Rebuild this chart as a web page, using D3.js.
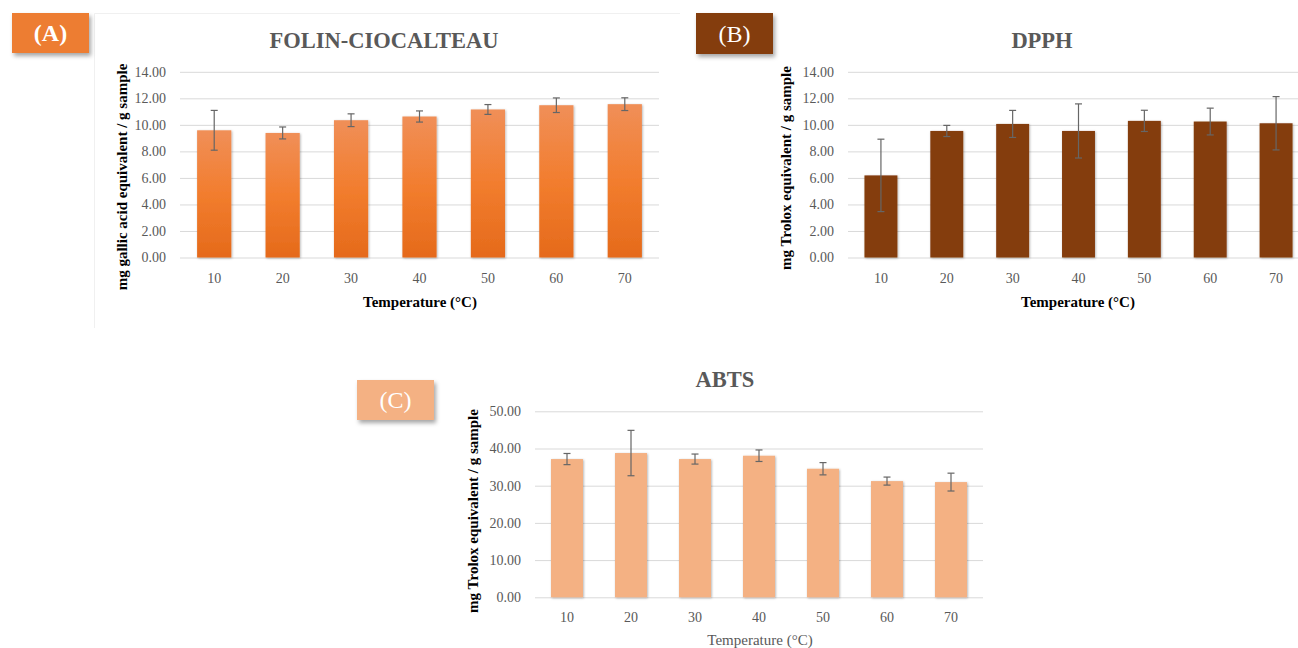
<!DOCTYPE html>
<html>
<head>
<meta charset="utf-8">
<script src="https://cdn.jsdelivr.net/npm/d3@7"></script>
<style>
  html, body { margin: 0; padding: 0; background: #fff; }
  svg { display: block; }
  text { font-family: "Palatino Linotype", "Book Antiqua", Palatino, "Liberation Serif", "DejaVu Serif", serif; }
</style>
</head>
<body>
<svg id="chart" width="1298" height="648"></svg>
<script>
// ---- data ----
const temperatures = ["10", "20", "30", "40", "50", "60", "70"];

const folinValues = [9.59, 9.39, 10.35, 10.63, 11.16, 11.48, 11.56];
const folinErrors = [1.50, 0.45, 0.48, 0.42, 0.37, 0.55, 0.48];

const dpphValues = [6.19, 9.54, 10.07, 9.54, 10.30, 10.25, 10.12];
const dpphErrors = [2.73, 0.42, 1.02, 2.04, 0.80, 1.01, 2.01];

const abtsValues = [37.16, 38.78, 37.16, 38.06, 34.56, 31.24, 30.97];
const abtsErrors = [1.50, 6.10, 1.35, 1.55, 1.65, 1.08, 2.40];

const ticksAB = [0, 2, 4, 6, 8, 10, 12, 14];
const ticksC = [0, 10, 20, 30, 40, 50];

const titles = ["FOLIN-CIOCALTEAU", "DPPH", "ABTS"];
const yTitles = ["mg gallic acid equivalent / g sample", "mg Trolox equivalent / g sample", "mg Trolox equivalent / g sample"];
const xTitle = "Temperature (°C)";
const badges = ["(A)", "(B)", "(C)"];

// ---- drawing ----
const svg = d3.select("#chart");
const defs = svg.append("defs");

const grad = defs.append("linearGradient").attr("id", "gradA")
  .attr("x1", 0).attr("y1", 0).attr("x2", 0).attr("y2", 1);
grad.append("stop").attr("offset", "0%").attr("stop-color", "#F08F58");
grad.append("stop").attr("offset", "50%").attr("stop-color", "#F27D2E");
grad.append("stop").attr("offset", "100%").attr("stop-color", "#E56A1B");

const barShadow = defs.append("filter").attr("id", "barShadow")
  .attr("x", "-20%").attr("y", "-5%").attr("width", "140%").attr("height", "110%");
barShadow.append("feDropShadow").attr("dx", 0.8).attr("dy", 0.8)
  .attr("stdDeviation", 1.1).attr("flood-color", "#000").attr("flood-opacity", 0.3);

const badgeShadow = defs.append("filter").attr("id", "badgeShadow")
  .attr("x", "-20%").attr("y", "-20%").attr("width", "150%").attr("height", "160%");
badgeShadow.append("feDropShadow").attr("dx", 2).attr("dy", 3)
  .attr("stdDeviation", 2).attr("flood-color", "#000").attr("flood-opacity", 0.35);

// faint chart-area border of panel A
svg.append("path").attr("d", "M94.5,328 V13.5 H680")
  .attr("fill", "none").attr("stroke", "#F0F0F0").attr("stroke-width", 1);

const fontStack = "'Palatino Linotype','Book Antiqua',Palatino,'Liberation Serif',serif";

const panels = [
  { values: folinValues, errors: folinErrors, ticks: ticksAB, max: 14,
    x0: 180, x1: 659, yb: 257.5, yt: 71.8, fill: "url(#gradA)",
    title: titles[0], tx: 384, ty: 48,
    yTitle: yTitles[0], ytx: 122, yty: 177,
    xtx: 420, xty: 307, xBold: true, tickBase: 283,
    badge: { text: badges[0], x: 12, y: 13, w: 77, h: 40, color: "#ED7D31", bold: true } },
  { values: dpphValues, errors: dpphErrors, ticks: ticksAB, max: 14,
    x0: 848, x1: 1309, yb: 257.5, yt: 71.8, fill: "#843C0C",
    title: titles[1], tx: 1042, ty: 48,
    yTitle: yTitles[1], ytx: 786, yty: 168,
    xtx: 1078, xty: 307, xBold: true, tickBase: 283,
    badge: { text: badges[1], x: 696, y: 13, w: 77, h: 41, color: "#843C0C", bold: false } },
  { values: abtsValues, errors: abtsErrors, ticks: ticksC, max: 50,
    x0: 535, x1: 983, yb: 597.3, yt: 411.3, fill: "#F4B183",
    title: titles[2], tx: 725, ty: 387,
    yTitle: yTitles[2], ytx: 473, yty: 511,
    xtx: 760, xty: 645, xBold: false, tickBase: 622,
    badge: { text: badges[2], x: 357, y: 380, w: 77, h: 40, color: "#F4B183", bold: false } }
];

panels.forEach(p => {
  const x = d3.scaleBand().domain(temperatures).range([p.x0, p.x1]).paddingInner(0.5).paddingOuter(0.25);
  const y = d3.scaleLinear().domain([0, p.max]).range([p.yb, p.yt]);
  const g = svg.append("g");

  // y axis + gridlines
  const yAxis = d3.axisLeft(y).tickValues(p.ticks).tickFormat(d3.format(".2f"))
    .tickSizeInner(-(p.x1 - p.x0)).tickSizeOuter(0).tickPadding(14);
  const ya = g.append("g").attr("transform", `translate(${p.x0},0)`).call(yAxis);
  ya.select(".domain").remove();
  ya.selectAll(".tick line").attr("stroke", "#D9D9D9").attr("stroke-width", 1);
  ya.selectAll(".tick text").attr("fill", "#595959").style("font-size", "14px")
    .style("font-family", fontStack);

  // x axis labels
  const xAxis = d3.axisBottom(x).tickSize(0).tickPadding(0);
  const xa = g.append("g").attr("transform", `translate(0,${p.yb})`).call(xAxis);
  xa.select(".domain").remove();
  xa.selectAll(".tick text").attr("y", p.tickBase - p.yb).attr("dy", 0)
    .attr("fill", "#595959").style("font-size", "14px")
    .style("font-family", fontStack);

  // bars
  g.append("g").selectAll("rect").data(p.values).join("rect")
    .attr("x", (d, i) => x(temperatures[i]))
    .attr("width", x.bandwidth())
    .attr("y", d => y(d))
    .attr("height", d => y(0) - y(d))
    .attr("fill", p.fill)
    .attr("filter", "url(#barShadow)");

  // error bars
  const eb = g.append("g").attr("stroke", "#666").attr("stroke-width", 1.2).attr("fill", "none");
  p.values.forEach((v, i) => {
    const cx = x(temperatures[i]) + x.bandwidth() / 2;
    const hi = y(v + p.errors[i]), lo = y(v - p.errors[i]);
    eb.append("line").attr("x1", cx).attr("x2", cx).attr("y1", hi).attr("y2", lo);
    eb.append("line").attr("x1", cx - 3.5).attr("x2", cx + 3.5).attr("y1", hi).attr("y2", hi);
    eb.append("line").attr("x1", cx - 3.5).attr("x2", cx + 3.5).attr("y1", lo).attr("y2", lo);
  });

  // chart title
  g.append("text").attr("x", p.tx).attr("y", p.ty).attr("text-anchor", "middle")
    .attr("fill", "#595959").style("font-size", "22.5px").style("font-weight", "bold")
    .text(p.title);

  // y title
  g.append("text").attr("transform", `translate(${p.ytx},${p.yty}) rotate(-90)`)
    .attr("text-anchor", "middle").attr("dy", "0.35em")
    .attr("fill", "#000").style("font-size", "15px").style("font-weight", "bold")
    .text(p.yTitle);

  // x title
  g.append("text").attr("x", p.xtx).attr("y", p.xty).attr("text-anchor", "middle")
    .attr("fill", p.xBold ? "#000" : "#595959").style("font-size", "15px")
    .style("font-weight", p.xBold ? "bold" : "normal")
    .text(xTitle);

  // badge
  const b = p.badge;
  const bg = svg.append("g");
  bg.append("rect").attr("x", b.x).attr("y", b.y).attr("width", b.w).attr("height", b.h)
    .attr("fill", b.color).attr("filter", "url(#badgeShadow)");
  bg.append("text").attr("x", b.x + b.w / 2).attr("y", b.y + b.h / 2).attr("dy", "0.35em")
    .attr("text-anchor", "middle").attr("fill", "#fff")
    .style("font-size", "24px").style("font-weight", b.bold ? "bold" : "normal")
    .text(b.text);
});
</script>
</body>
</html>
